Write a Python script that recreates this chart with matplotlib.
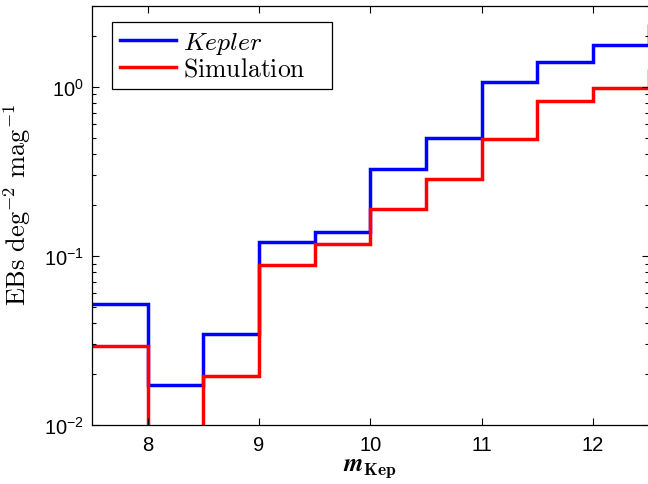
import numpy as np
import matplotlib
matplotlib.use("Agg")
import matplotlib.pyplot as plt
from matplotlib.font_manager import FontProperties
from matplotlib.ticker import LogLocator, FixedLocator, FuncFormatter

# bin edges in Kepler magnitude (last bin lies just past the visible range)
edges = [7.5, 8.0, 8.5, 9.0, 9.5, 10.0, 10.5, 11.0, 11.5, 12.0, 12.5, 13.0]
kepler = [0.0518, 0.0172, 0.0345, 0.1205, 0.138, 0.327, 0.499, 1.06, 1.40, 1.755, 2.36]
simulation = [0.0293, 0.0, 0.0196, 0.0888, 0.118, 0.188, 0.285, 0.492, 0.826, 0.98, 1.28]
xticks = [8, 9, 10, 11, 12]

plt.rcParams['font.family'] = ['Liberation Sans', 'DejaVu Sans']
plt.rcParams['mathtext.fontset'] = 'custom'
plt.rcParams['mathtext.rm'] = 'Liberation Sans'
plt.rcParams['mathtext.it'] = 'Liberation Sans:italic'
plt.rcParams['mathtext.bf'] = 'Liberation Sans:bold'

fig = plt.figure(figsize=(6.48, 4.85), dpi=100)
ax = fig.add_axes([0.142, 0.1216, 0.859, 0.864])
ax.set_yscale('log', nonpositive='clip')

ax.stairs(kepler, edges, baseline=None, color=(0, 0, 1), lw=2.5, label=r'$Kepler$')
ax.stairs(simulation, edges, baseline=None, color=(1, 0, 0), lw=2.5,
          label=r'$\mathrm{Simulation}$')

ax.set_xlim(7.5, 12.5)
ax.set_ylim(0.01, 3.0)
ax.xaxis.set_major_locator(FixedLocator(xticks))
ax.yaxis.set_major_locator(FixedLocator([0.01, 0.1, 1.0]))
ax.yaxis.set_minor_locator(LogLocator(base=10, subs=np.arange(2, 10)))
ax.yaxis.set_major_formatter(FuncFormatter(lambda v, p: r'$10^{%d}$' % round(np.log10(v))))

ax.tick_params(which='both', direction='in', top=True, right=True, labelsize=14.5)
ax.tick_params(which='major', length=5, width=0.8)
ax.tick_params(which='minor', length=3, width=0.8)
ax.tick_params(axis='x', pad=7)
ax.tick_params(axis='y', pad=6)
for s in ax.spines.values():
    s.set_linewidth(0.9)

ax.set_xlabel(r'$\boldsymbol{m}_{\mathbf{Kep}}$', fontsize=18, math_fontfamily='cm', labelpad=1)
ax.set_ylabel(r'$\mathrm{EBs\ deg^{-2}\ mag^{-1}}$', fontsize=19, math_fontfamily='cm')
ax.yaxis.set_label_coords(-0.106, 0.527)

# legend stretched to the box width of the original
leg = ax.legend(loc='upper left', bbox_to_anchor=(0.036, 0.817, 0.396, 0.145),
                mode='expand', borderaxespad=0,
                fancybox=False, edgecolor='black', framealpha=1,
                prop=FontProperties(size=18.5, math_fontfamily='cm'),
                handlelength=2.2, handletextpad=0.25, labelspacing=0.05, borderpad=0.3)
leg.get_frame().set_linewidth(0.9)
for line in leg.get_lines():
    line.set_linewidth(2.5)

fig.savefig('out.png', dpi=100)
